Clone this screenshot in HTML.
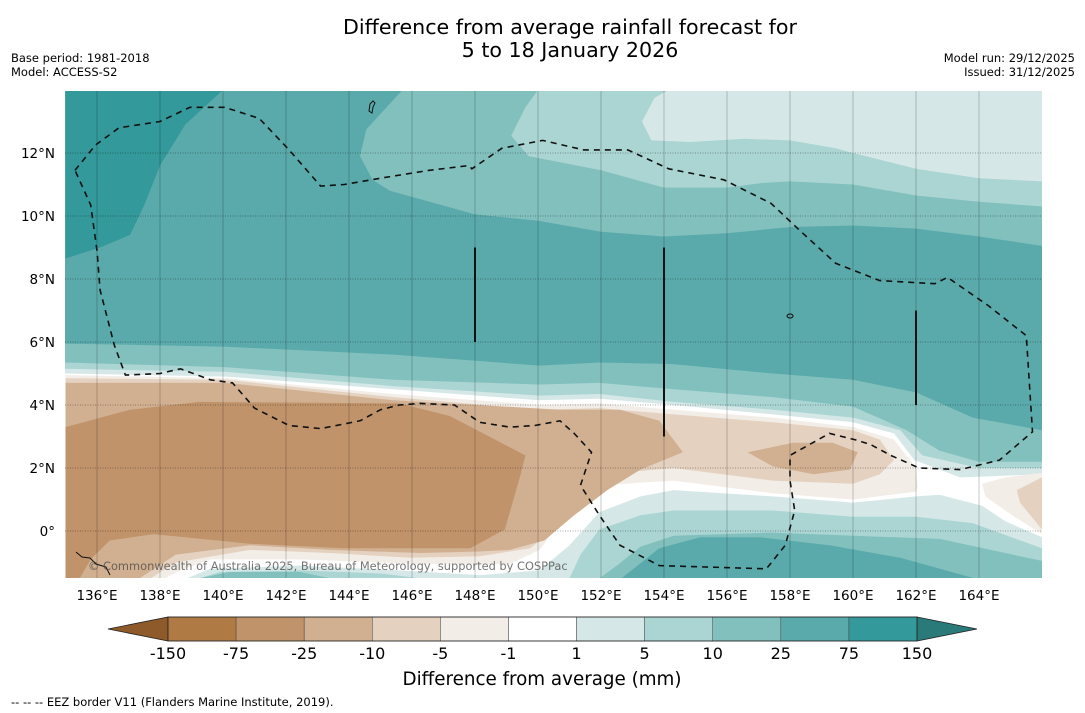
<!DOCTYPE html>
<html><head><meta charset="utf-8"><style>
body{margin:0;background:#fff;}
svg{display:block;font-family:"DejaVu Sans","Liberation Sans",sans-serif;}
</style></head><body>
<svg id="chart" width="1085" height="713" viewBox="0 0 1085 713">
<defs><clipPath id="mapclip"><rect x="65" y="91" width="977" height="487"/></clipPath></defs>
<text x="570" y="34" text-anchor="middle" font-size="20.6" fill="#000">Difference from average rainfall forecast for</text>
<text x="570" y="57" text-anchor="middle" font-size="20.6" fill="#000">5 to 18 January 2026</text>
<text x="11" y="62" font-size="11.5">Base period: 1981-2018</text>
<text x="11" y="76" font-size="11.5">Model: ACCESS-S2</text>
<text x="1075" y="62" font-size="11.5" text-anchor="end">Model run: 29/12/2025</text>
<text x="1075" y="76" font-size="11.5" text-anchor="end">Issued: 31/12/2025</text>
<g id="map" clip-path="url(#mapclip)"></g>
<g id="axes"></g>
<g id="cbar"></g>
<text x="542" y="685" text-anchor="middle" font-size="18.3">Difference from average (mm)</text>
<text x="11" y="706" font-size="11.5">--  --  -- EEZ border V11 (Flanders Marine Institute, 2019).</text>
</svg>
<script>
// ---- data ----
const lonTicks = [136,138,140,142,144,146,148,150,152,154,156,158,160,162,164];
const latTicks = [0,2,4,6,8,10,12];
const levels = ["-150","-75","-25","-10","-5","-1","1","5","10","25","75","150"];
const levelColors = ["#b07a45","#c0936a","#d1b091","#e4d1bf","#f2ede7","#ffffff","#d5e8e7","#aad5d3","#82c0be","#5aaaab","#33999a"];
const northDark = [[135,14],[140,14],[138.8,12.9],[138,11.6],[137.5,10.35],[137.05,9.4],[136.1,9.0],[135,8.65]];
const north10 = [[145.7,14],[144.55,12.75],[144.35,11.9],[144.75,11.15],[145.3,10.8],[148,10.05],[150,9.85],[152,9.5],[154,9.35],[156,9.45],[158,9.65],[160,9.7],[162,9.6],[164,9.35],[166,9.05]];
const north5 = [[150,14],[149.6,13.45],[149.15,12.55],[149.7,11.9],[152,11.45],[154,10.9],[156,10.9],[157.15,11.05],[158,11.1],[160,11.0],[162,10.65],[164,10.45],[166,10.3]];
const north1 = [[154.15,14],[153.7,13.75],[153.3,13.0],[153.6,12.4],[154.85,12.35],[156.55,12.45],[158,12.4],[159.45,12.15],[160,12.0],[162,11.5],[164,11.2],[166,11.1]];
const mid25 = [[135,5.95],[140.1,5.85],[145.4,5.6],[150.05,5.25],[151.95,5.35],[154.3,5.3],[157.45,5.0],[160,4.8],[162,4.4],[163.8,3.6],[166,3.2]];
const mid10 = [[135,5.35],[140.1,5.2],[145.4,4.8],[150.05,4.65],[151.95,4.7],[154.3,4.5],[157.45,4.25],[160,3.95],[161.7,3.2],[162.75,2.55],[164,2.2],[166,2.2]];
const mid5 = [[135,5.15],[140.1,5.05],[145.4,4.6],[150.05,4.3],[151.95,4.35],[154.3,4.1],[157.45,3.85],[160,3.6],[161.5,3.2],[162.2,2.4],[164,2.0],[166,2.0]];
const mid1 = [[135,5.0],[140.1,4.9],[145.4,4.5],[150.05,4.15],[151.95,4.2],[154.3,4.0],[157.45,3.7],[160,3.45],[161.3,3.1],[161.95,2.25],[163.4,1.7],[166,1.8]];
const negM1 = [[135,4.95],[140.1,4.85],[145.4,4.35],[150.05,4.0],[151.95,4.05],[154.3,3.85],[157.45,3.6],[160,3.3],[161.3,2.9],[162,2.0],[162.05,1.4],[162,1.25],[160,1.0],[157.45,1.2],[154.3,1.6],[151.95,1.45],[151.0,0.65],[150.05,-0.6],[149.1,-1.05],[146.25,-1.05],[142.45,-0.9],[139.6,-0.9],[138.65,-1.25],[138.15,-1.5],[135,-1.5]];
const negM5 = [[135,4.85],[140.1,4.8],[145.4,4.25],[150.05,3.85],[151.95,3.9],[154.3,3.7],[157.45,3.45],[160,3.2],[160.85,2.9],[161.3,2.25],[160.85,1.8],[160,1.5],[157.45,1.6],[154.3,2.0],[152.6,1.85],[151.65,1.45],[150.7,0.2],[149.75,-0.55],[148.15,-0.8],[145.95,-0.85],[143.4,-0.7],[140.85,-0.6],[138.5,-1.0],[137.7,-1.5],[135,-1.5]];
const negM10 = [[135,4.7],[140.1,4.7],[145.4,4.15],[150.7,3.85],[152.6,3.85],[153.85,3.5],[154.6,2.5],[153.25,1.95],[152.2,1.3],[151.15,0.5],[150.2,-0.3],[149.1,-0.6],[148.15,-0.65],[146.25,-0.7],[143.4,-0.6],[140.85,-0.45],[138.5,-0.75],[137.35,-1.5],[135,-1.5]];
const negM25 = [[135,3.3],[137.05,3.85],[139.25,4.1],[145.6,4.05],[147.2,3.65],[149.6,2.4],[149.45,1.8],[148.95,0.05],[147.85,-0.55],[143.8,-0.55],[140.8,-0.4],[137.8,-0.1],[136.4,-0.3],[135.8,-0.9],[135.45,-1.5],[135,-1.5]];
const negBlobM10 = [[156.65,2.5],[158.1,2.8],[159.35,2.8],[160.15,2.5],[159.9,1.95],[158.75,1.8],[157.45,2.05]];
const edgeBlobM1 = [[164.1,1.5],[164.85,1.7],[166,1.85],[166,-0.1],[165.05,0.5],[164.2,1.1]];
const edgeBlobM5 = [[165.2,1.3],[166,1.7],[166,0.05],[165.3,0.9]];
const south1 = [[138.85,-1.5],[139.6,-1.2],[142.45,-1.1],[145.6,-1.25],[148.15,-1.4],[150.05,-1.25],[151.0,-0.45],[151.95,0.6],[153.25,1.1],[154.3,1.3],[157.45,1.1],[160,0.9],[162,1.1],[162.75,1.15],[164.1,0.8],[164.85,0.3],[166,-0.2]];
const south5 = [[139.25,-1.5],[139.9,-1.3],[142.45,-1.25],[145.0,-1.35],[146.25,-1.5],[151.0,-1.5],[151.35,-0.75],[151.95,0.05],[153.25,0.5],[154.3,0.65],[157.45,0.65],[160,0.45],[162,0.45],[163.8,0.25],[166,-0.55]];
const south10 = [[151.95,-1.5],[152.5,-1.1],[153.25,-0.5],[154.3,-0.15],[157.45,-0.05],[160,-0.15],[162.75,-0.25],[166,-0.95]];
const south10b = [[139.25,-1.5],[140.2,-1.3],[142.45,-1.3],[143.4,-1.5]];
const south25 = [[152.65,-1.5],[153.85,-0.55],[155.15,-0.2],[157.05,-0.2],[159.25,-0.45],[161.5,-0.85],[163.85,-1.5]];
const eez = [[135.3,11.45],[135.95,12.25],[136.7,12.8],[138,13.0],[138.95,13.45],[140.05,13.45],[141.15,13.1],[142.1,12.1],[143.1,10.95],[143.85,11.0],[145,11.2],[146.55,11.45],[147.8,11.6],[147.9,11.5],[148.85,12.15],[150.15,12.4],[151.45,12.1],[152.85,12.1],[154.15,11.5],[155.9,11.15],[157.4,10.4],[158.3,9.55],[159.45,8.5],[160.85,7.95],[162.6,7.85],[163,8.05],[164.3,7.15],[165.5,6.2],[165.7,3.15],[164.65,2.25],[163.4,1.95],[162.1,2.0],[161.2,2.4],[160.55,2.75],[160.05,2.9],[159.25,3.1],[158,2.4],[158,1.6],[158.15,0.65],[157.85,-0.45],[157.25,-1.2],[153.85,-1.1],[152.6,-0.45],[151.95,0.5],[151.35,1.45],[151.7,2.5],[151.15,3.1],[150.7,3.5],[149.9,3.35],[149.1,3.3],[148.15,3.45],[147.35,4.0],[146.25,4.05],[145.6,4.0],[145,3.85],[144.35,3.5],[143.1,3.25],[142.1,3.35],[141,3.9],[140.3,4.7],[139.6,4.8],[138.65,5.15],[138,5.0],[136.9,4.95],[136.55,5.9],[136.1,7.65],[136,8.9],[135.8,10.35],[135.3,11.45]];
const blackLines = [[148,9,6],[154,9,3],[162,7,4]];

const X = lon => 65.5 + (lon - 135) * 31.5;
const Y = lat => 531 - lat * 31.5;
const NS = "http://www.w3.org/2000/svg";
const map = document.getElementById('map');
const axes = document.getElementById('axes');
const cbar = document.getElementById('cbar');
function mk(tag, attrs, parent){const e=document.createElementNS(NS,tag);for(const k in attrs)e.setAttribute(k,attrs[k]);parent.appendChild(e);return e;}
function pts(arr){return arr.map(p=>X(p[0]).toFixed(1)+','+Y(p[1]).toFixed(1)).join(' ');}
function closeTopArr(arr){return [[166.5,14.5]].concat(arr.slice().reverse()).concat([[arr[0][0],14.5]]);}
function closeBottom(arr){const a=arr[0],b=arr[arr.length-1];return [[a[0],-2]].concat(arr,[[b[0],-2]]);}
function closeBottomFull(arr){return [[134.5,arr[0][1]]].concat(arr,[[166.5,arr[arr.length-1][1]],[166.5,-2],[134.5,-2]]);}
function area(arr, color, name){
  const p = mk('polygon',{points:pts(arr),fill:color},map);
  
  
}
const C = levelColors;
const bg = mk('rect',{x:65,y:91,width:977,height:487,fill:C[9]},map);


area(northDark, C[10], 'contour-75-150-north');
area(closeTopArr(north10), C[8], 'contour-10-25-north');
area(closeTopArr(north5), C[7], 'contour-5-10-north');
area(closeTopArr(north1), C[6], 'contour-1-5-north');
area(closeBottomFull(mid25), C[8], 'contour-10-25-middle');
area(closeBottomFull(mid10), C[7], 'contour-5-10-middle');
area(closeBottomFull(mid5), C[6], 'contour-1-5-middle');
area(closeBottomFull(mid1), C[5], 'contour-white-middle');
area(negM1, C[4], 'contour-minus1-5');
area(negM5, C[3], 'contour-minus5-10');
area(negM10, C[2], 'contour-minus10-25');
area(negM25, C[1], 'contour-minus25-75');
area(negBlobM10, C[2], 'contour-minus10-25-east');
area(edgeBlobM1, C[4], 'contour-minus1-5-edge');
area(edgeBlobM5, C[3], 'contour-minus5-10-edge');
area(closeBottom(south1), C[6], 'contour-1-5-south');
area(closeBottom(south5), C[7], 'contour-5-10-south');
area(closeBottom(south10), C[8], 'contour-10-25-south');
area(closeBottom(south10b), C[8], 'contour-10-25-southwest');
area(closeBottom(south25), C[9], 'contour-25-75-south');
lonTicks.forEach(l=>{
  const g = mk('line',{x1:X(l),x2:X(l),y1:91,y2:578,stroke:'rgba(0,0,0,0.3)','stroke-width':0.7},map);
  
  
});
latTicks.forEach(l=>{
  const g = mk('line',{x1:65,x2:1042,y1:Y(l),y2:Y(l),stroke:'rgba(0,0,0,0.45)','stroke-width':0.7,'stroke-dasharray':'1,1.5'},map);
  
  
});
const ez = mk('polyline',{points:pts(eez),fill:'none',stroke:'#111','stroke-width':1.6,'stroke-dasharray':'6,5'},map);


blackLines.forEach(b=>{
  const l = mk('line',{x1:X(b[0]),x2:X(b[0]),y1:Y(b[1]),y2:Y(b[2]),stroke:'#111','stroke-width':2},map);
  
  
});
const isl = mk('path',{d:'M370 104 l3 -3 l2 2 l-2 4 l-1 6 l-3 -2 z M76 552 l6 5 l8 1 l6 6 l10 3 l4 8 M790 314 a3 2 0 1 0 0.1 0',fill:'none',stroke:'#111','stroke-width':1},map);


const cp = mk('text',{x:88,y:570,'font-size':11.4,fill:'rgba(70,70,70,0.75)'},map);
cp.textContent='© Commonwealth of Australia 2025, Bureau of Meteorology, supported by COSPPac';


lonTicks.forEach(l=>{
  const t = mk('text',{x:X(l),y:600,'text-anchor':'middle','font-size':13.5},axes);
  t.textContent = l+'°E';
  
  
});
latTicks.forEach(l=>{
  const t = mk('text',{x:55,y:Y(l)+5,'text-anchor':'end','font-size':13.5},axes);
  t.textContent = l===0 ? '0°' : l+'°N';
  
  
});
const cx0=168, cx1=917, cy0=617, cy1=641, bw=(cx1-cx0)/levelColors.length;
const lt = mk('polygon',{points:`108,629 ${cx0},${cy0} ${cx0},${cy1}`,fill:'#8f5a2a',stroke:'#222','stroke-width':0.8},cbar);


const rt = mk('polygon',{points:`${cx1},${cy0} 977,629 ${cx1},${cy1}`,fill:'#2a7a7a',stroke:'#222','stroke-width':0.8},cbar);


levelColors.forEach((c,i)=>{
  const r = mk('rect',{x:cx0+i*bw,y:cy0,width:bw,height:cy1-cy0,fill:c,stroke:'#444','stroke-width':0.5},cbar);
  
  
});
mk('rect',{x:cx0,y:cy0,width:cx1-cx0,height:cy1-cy0,fill:'none',stroke:'#222','stroke-width':0.8},cbar);
levels.forEach((s,i)=>{
  const t = mk('text',{x:cx0+i*bw,y:659,'text-anchor':'middle','font-size':16},cbar);
  t.textContent = s;
  
  
});
</script>
</body></html>
